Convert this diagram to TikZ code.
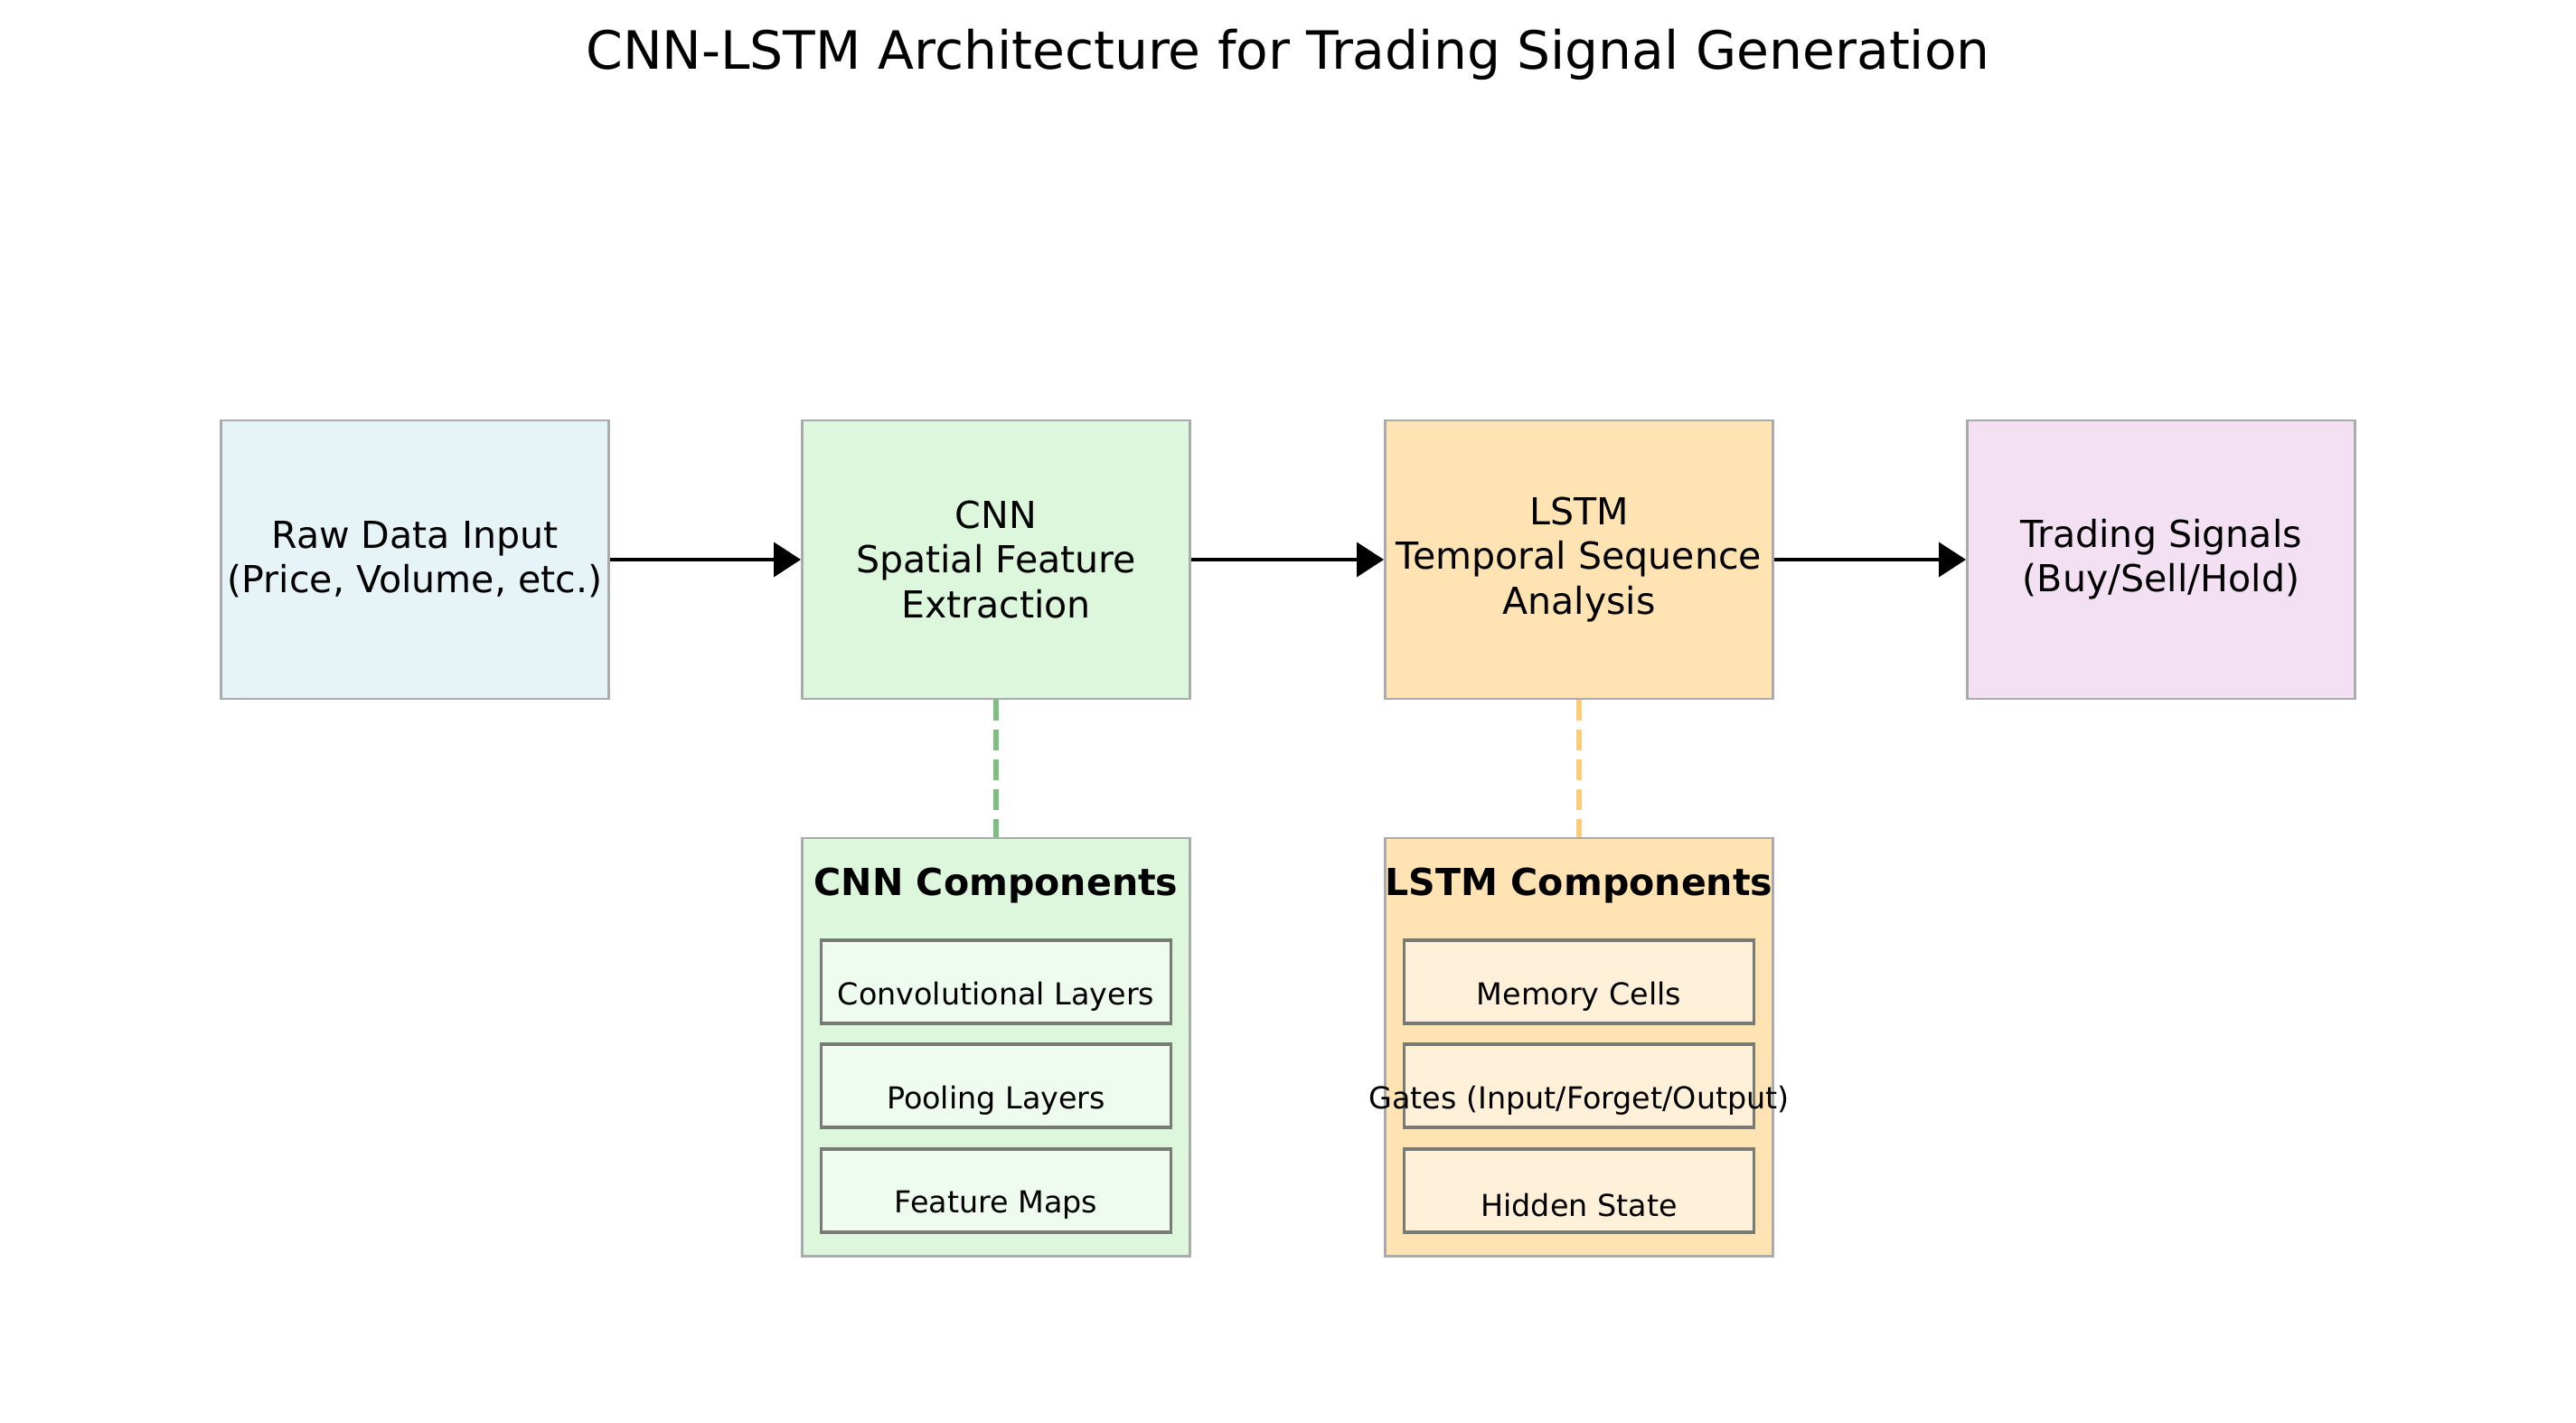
\documentclass[tikz,border=0pt]{standalone}
\usepackage{fontspec}
\setmainfont{DejaVu Sans}
\usetikzlibrary{arrows.meta,positioning}

\definecolor{rawfill}{HTML}{E6F3F7}
\definecolor{cnnfill}{HTML}{DCF7DC}
\definecolor{lstmfill}{HTML}{FFE3B3}
\definecolor{sigfill}{HTML}{F3E1F3}
\definecolor{cnnsub}{HTML}{EEFBEE}
\definecolor{lstmsub}{HTML}{FFF0D9}
\definecolor{boxline}{HTML}{A9ACAD}
\definecolor{subline}{HTML}{787A74}
\definecolor{cnnlink}{HTML}{7DC07D}
\definecolor{lstmlink}{HTML}{FFCC77}

\tikzset{
  stage/.style={draw=boxline, line width=0.85pt, minimum width=4.29cm, minimum height=3.08cm,
    align=center, inner sep=0pt, font=\fontsize{11.7}{14}\selectfont},
  partbox/.style={draw=boxline, line width=0.85pt, minimum width=4.29cm, minimum height=4.62cm, inner sep=0pt},
  parthead/.style={font=\fontsize{11.7}{14}\selectfont\bfseries},
  item/.style={draw=subline, line width=1.1pt, minimum width=3.87cm, minimum height=0.92cm, inner sep=0pt},
  itemtext/.style={font=\fontsize{9.5}{11.4}\selectfont},
  flow/.style={line width=1.1pt, -{Triangle[length=0.3cm,width=0.38cm]}},
  link/.style={line width=1.7pt, dash pattern=on 0.23cm off 0.10cm}
}

\begin{document}
\begin{tikzpicture}
    \useasboundingbox (0,0) rectangle (28.5,-15.74);
    \node[font=\fontsize{16.6}{19.9}\selectfont] (title) at (14.25,-0.60) {CNN-LSTM Architecture for Trading Signal Generation};

    % main pipeline
    \node[stage, fill=rawfill] (raw) at (4.59,-6.19) {Raw Data Input\\(Price, Volume, etc.)};
    \node[stage, fill=cnnfill] (cnn) at (11.02,-6.19) {CNN\\Spatial Feature\\Extraction};
    \node[stage, fill=lstmfill] (lstm) at (17.47,-6.19) {LSTM\\Temporal Sequence\\Analysis};
    \node[stage, fill=sigfill] (sig) at (23.91,-6.19) {Trading Signals\\(Buy/Sell/Hold)};

    \draw[flow] (raw.east) -- (cnn.west);
    \draw[flow] (cnn.east) -- (lstm.west);
    \draw[flow] (lstm.east) -- (sig.west);

    % component panels
    \node[partbox, fill=cnnfill] (cnnpart) at (11.02,-11.58) {};
    \node[partbox, fill=lstmfill] (lstmpart) at (17.47,-11.58) {};
    \node[parthead] (cnnhead) at ([yshift=-0.54cm]cnnpart.north) {CNN Components};
    \node[parthead] (lstmhead) at ([yshift=-0.54cm]lstmpart.north) {LSTM Components};

    \draw[link, cnnlink] (cnn.south) -- (cnnpart.north);
    \draw[link, lstmlink] (lstm.south) -- (lstmpart.north);

    \node[item, fill=cnnsub] (conv) at (11.02,-10.86) {};
    \node[item, fill=cnnsub] (pool) at (11.02,-12.01) {};
    \node[item, fill=cnnsub] (fmap) at (11.02,-13.17) {};
    \node[itemtext] at ([yshift=-0.16cm]conv.center) {Convolutional Layers};
    \node[itemtext] at ([yshift=-0.16cm]pool.center) {Pooling Layers};
    \node[itemtext] at ([yshift=-0.16cm]fmap.center) {Feature Maps};

    \node[item, fill=lstmsub] (mem) at (17.47,-10.86) {};
    \node[item, fill=lstmsub] (gate) at (17.47,-12.01) {};
    \node[item, fill=lstmsub] (hid) at (17.47,-13.17) {};
    \node[itemtext] at ([yshift=-0.16cm]mem.center) {Memory Cells};
    \node[itemtext] at ([yshift=-0.16cm]gate.center) {Gates (Input/Forget/Output)};
    \node[itemtext] at ([yshift=-0.16cm]hid.center) {Hidden State};
\end{tikzpicture}
\end{document}
